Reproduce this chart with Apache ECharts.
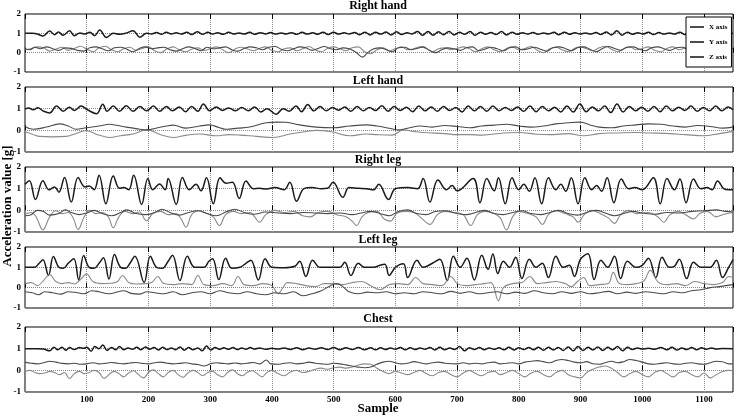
<!DOCTYPE html>
<html><head><meta charset="utf-8">
<script src="https://cdn.jsdelivr.net/npm/echarts@6/dist/echarts.min.js"></script>
<style>html,body{margin:0;padding:0;background:#fff}#c{width:738px;height:417px}</style>
</head><body><div id="c"></div>
<script>
// ---- data (flat arrays: sample, value, sample, value, ...) ----
const panelTitles = ['Right hand','Left hand','Right leg','Left leg','Chest'];
const seriesNames = ['X axis','Y axis','Z axis'];
const xTickLabels = ['100','200','300','400','500','600','700','800','900','1000','1100'];
const yTickLabels = ['-1','0','1','2'];

const rhX = [0,1.0, 12,1.0, 20,0.97, 29,0.86, 40,1.12, 48,0.93, 54,1.07, 62,0.90, 72,1.14, 80,0.88, 89,1.02, 97,0.96, 105,1.05, 113,0.88, 121,1.17, 132,0.79, 143,1.0, 153,0.95, 164,1.01, 175,1.14, 186,0.80, 197,1.0, 205,0.97, 213,1.04, 221,0.95, 229,1.06, 237,0.97, 245,1.03, 253,0.96, 262,1.05, 270,0.94, 279,1.08, 288,0.95, 296,1.06, 304,0.96, 312,1.03, 321,0.95, 330,1.05, 338,0.97, 347,1.02, 355,0.96, 364,1.05, 372,0.95, 381,1.03, 390,0.97, 398,1.04, 406,0.96, 415,1.02, 423,0.97, 432,1.03, 440,0.95, 449,1.05, 457,0.96, 466,1.03, 474,0.95, 483,1.06, 491,0.94, 500,1.05, 508,0.96, 517,1.03, 525,0.97, 534,1.04, 542,0.93, 551,1.06, 559,0.92, 568,1.05, 576,0.96, 585,1.07, 593,0.92, 602,1.08, 610,0.94, 619,1.03, 627,0.97, 636,1.09, 644,0.9, 653,1.1, 661,0.9, 670,1.08, 678,0.93, 687,1.1, 695,0.92, 704,1.06, 712,0.95, 721,1.1, 729,0.9, 738,1.06, 746,0.95, 755,1.04, 763,0.94, 772,1.09, 780,0.92, 789,1.06, 797,0.95, 806,1.03, 814,0.96, 823,1.04, 831,0.95, 840,1.02, 848,0.97, 857,1.05, 865,0.93, 874,1.06, 882,0.95, 891,1.03, 899,0.96, 908,1.02, 916,0.96, 925,1.04, 933,0.94, 942,1.07, 950,0.92, 959,1.14, 967,0.9, 976,1.06, 984,0.95, 993,1.03, 1001,0.96, 1010,1.05, 1018,0.94, 1027,1.04, 1035,0.96, 1044,1.02, 1052,0.96, 1061,1.05, 1069,0.94, 1078,1.06, 1086,0.95, 1095,1.07, 1103,0.93, 1112,1.05, 1120,0.95, 1129,1.02, 1138,0.98, 1147,1.0];
const rhY = [0,0.15, 10,0.22, 20,0.30, 30,0.25, 40,0.08, 50,0.18, 60,0.28, 70,0.12, 80,0.22, 90,0.33, 100,0.18, 110,0.05, 120,0.25, 130,0.33, 140,0.15, 150,0.05, 160,0.2, 170,0.28, 180,0.12, 190,0.22, 200,0.3, 210,0.1, 220,0.0, 230,0.2, 240,0.3, 250,0.15, 260,0.05, 270,0.18, 280,0.25, 290,0.12, 300,0.2, 310,0.3, 320,0.15, 330,0.0, 340,0.18, 350,0.28, 360,0.2, 370,0.1, 380,0.22, 390,0.3, 400,0.12, 410,0.05, 420,0.2, 430,0.25, 440,0.1, 450,0.2, 460,0.32, 470,0.15, 480,0.05, 490,0.22, 500,0.3, 510,0.2, 520,0.1, 530,0.25, 540,0.3, 550,0.05, 560,-0.05, 570,0.15, 580,0.25, 590,0.1, 600,0.2, 610,0.3, 620,0.15, 630,0.2, 640,0.3, 650,0.22, 660,0.05, 670,0.2, 680,0.25, 690,0.15, 700,0.22, 710,0.3, 720,0.2, 730,0.05, 740,0.2, 750,0.3, 760,0.15, 770,0.05, 780,0.22, 790,0.3, 800,0.15, 810,0.22, 820,0.32, 830,0.12, 840,0.0, 850,0.2, 860,0.28, 870,0.15, 880,0.05, 890,0.22, 900,0.3, 910,0.2, 920,0.1, 930,0.25, 940,0.33, 950,0.18, 960,0.05, 970,0.2, 980,0.3, 990,0.15, 1000,0.22, 1010,0.3, 1020,0.12, 1030,0.05, 1040,0.22, 1050,0.3, 1060,0.15, 1070,0.25, 1080,0.3, 1090,0.18, 1100,0.05, 1110,0.2, 1120,0.28, 1130,0.15, 1147,0.2];
const rhZ = [0,0.2, 8,0.15, 16,0.28, 25,0.2, 35,0.3, 45,0.2, 55,0.12, 65,0.25, 75,0.22, 85,0.12, 95,0.08, 105,0.25, 115,0.3, 125,0.2, 135,0.1, 145,0.25, 155,0.28, 165,0.18, 175,0.05, 185,0.22, 195,0.3, 205,0.2, 215,0.25, 225,0.28, 235,0.15, 245,0.08, 255,0.2, 265,0.3, 275,0.22, 285,0.1, 295,0.28, 305,0.2, 315,0.25, 325,0.3, 335,0.15, 345,0.08, 355,0.22, 365,0.3, 375,0.25, 385,0.15, 395,0.28, 405,0.32, 415,0.18, 425,0.1, 435,0.2, 445,0.3, 455,0.25, 465,0.12, 475,0.22, 485,0.32, 495,0.2, 505,0.15, 515,0.25, 525,0.2, 535,0.05, 547,-0.23, 555,0.0, 565,0.2, 575,0.25, 585,0.15, 595,0.05, 605,0.25, 615,0.28, 625,0.15, 635,0.22, 645,0.3, 655,0.12, 665,0.0, 675,0.15, 685,0.25, 695,0.2, 705,0.12, 715,0.25, 725,0.3, 735,0.1, 745,0.18, 755,0.28, 765,0.2, 775,0.1, 785,0.25, 795,0.3, 805,0.15, 815,0.2, 825,0.28, 835,0.18, 845,0.08, 855,0.25, 865,0.3, 875,0.22, 885,0.1, 895,0.25, 905,0.3, 915,0.18, 925,0.05, 935,0.2, 945,0.32, 955,0.22, 965,0.12, 975,0.28, 985,0.3, 995,0.18, 1005,0.1, 1015,0.25, 1025,0.3, 1035,0.2, 1045,0.12, 1055,0.25, 1065,0.28, 1075,0.15, 1085,0.25, 1095,0.32, 1105,0.2, 1115,0.1, 1125,0.25, 1135,0.22, 1147,0.2];

const lhX = [0,0.98, 6,1.03, 13,0.95, 21,1.04, 29,0.9, 40,0.8, 51,1.12, 62,0.88, 72,1.06, 80,0.92, 91,1.12, 101,0.95, 116,0.77, 126,1.2, 133,0.88, 143,1.12, 153,0.88, 164,1.14, 175,0.88, 186,1.1, 197,0.9, 208,1.12, 218,0.88, 229,1.1, 239,0.9, 250,1.08, 260,0.86, 270,1.1, 280,0.88, 289,1.22, 299,0.9, 310,1.08, 320,0.92, 330,1.03, 341,0.9, 351,1.05, 362,0.9, 372,1.08, 382,0.85, 392,1.0, 407,0.74, 418,1.0, 428,0.88, 439,1.12, 448,0.86, 458,1.19, 468,0.9, 478,1.1, 488,0.9, 498,1.05, 508,0.93, 518,1.08, 528,0.88, 538,1.1, 548,0.9, 558,1.05, 568,0.92, 578,1.14, 588,0.88, 598,1.1, 608,0.92, 618,1.06, 628,0.86, 638,1.12, 648,0.9, 658,1.08, 668,0.88, 678,1.1, 688,0.92, 698,1.05, 708,0.85, 718,1.12, 728,0.9, 738,1.1, 748,0.88, 758,1.12, 768,0.9, 778,1.05, 788,0.92, 798,1.08, 808,0.88, 818,1.12, 828,0.86, 838,1.1, 848,0.9, 858,1.06, 868,0.85, 878,1.12, 888,0.85, 899,1.22, 909,0.86, 919,1.08, 929,0.9, 939,1.12, 949,0.82, 959,1.22, 969,0.85, 979,1.1, 989,0.9, 999,1.06, 1009,0.88, 1019,1.1, 1029,0.86, 1039,1.12, 1049,0.9, 1059,1.06, 1069,0.92, 1079,1.12, 1089,0.88, 1099,1.05, 1109,0.9, 1119,1.12, 1129,0.9, 1139,1.08, 1147,0.95];
const lhY = [0,-0.07, 12,-0.18, 24,-0.28, 45,-0.3, 67,-0.28, 85,-0.12, 99,-0.02, 118,-0.2, 137,-0.33, 155,-0.25, 175,-0.17, 197,0.02, 220,-0.2, 240,-0.33, 262,-0.22, 283,-0.17, 310,-0.25, 330,-0.2, 348,-0.22, 375,-0.28, 402,-0.33, 429,-0.17, 450,-0.08, 472,0.0, 499,-0.08, 526,-0.25, 553,-0.17, 570,-0.2, 595,-0.22, 613,0.02, 630,-0.05, 645,-0.1, 680,-0.15, 700,-0.2, 721,-0.2, 740,-0.22, 775,-0.12, 800,-0.1, 830,-0.18, 850,-0.2, 880,-0.15, 905,-0.25, 930,-0.15, 960,-0.12, 990,-0.1, 1010,-0.12, 1045,-0.15, 1070,-0.2, 1100,-0.25, 1125,-0.15, 1147,-0.05];
const lhZ = [0,0.18, 13,0.05, 35,0.15, 56,0.3, 70,0.2, 83,0.05, 99,0.12, 120,0.2, 137,0.28, 150,0.22, 164,0.15, 180,0.08, 197,0.02, 215,0.12, 229,0.2, 240,0.24, 261,0.1, 283,0.2, 299,0.25, 315,0.12, 326,0.05, 345,0.1, 364,0.15, 391,0.35, 410,0.38, 423,0.37, 445,0.25, 472,0.15, 499,0.12, 526,0.2, 553,0.25, 570,0.2, 590,0.1, 605,0.02, 620,0.1, 640,0.2, 660,0.15, 680,0.22, 700,0.18, 720,0.12, 740,0.2, 760,0.24, 780,0.28, 800,0.2, 820,0.15, 840,0.2, 860,0.3, 880,0.35, 900,0.38, 915,0.25, 930,0.15, 950,0.12, 970,0.2, 990,0.25, 1010,0.3, 1030,0.28, 1050,0.2, 1070,0.15, 1090,0.22, 1110,0.18, 1130,0.1, 1147,0.15];

const rlX = [0,1.2, 7,1.37, 17,0.5, 29,1.37, 39,0.95, 48,1.08, 55,0.84, 64,1.52, 75,0.38, 86,1.52, 97,1.08, 104,1.12, 112,0.95, 120,1.62, 131,0.3, 143,1.58, 153,1.02, 160,1.05, 168,0.95, 176,1.62, 189,0.27, 199,1.47, 207,0.95, 218,1.22, 227,0.95, 232,1.47, 245,0.27, 255,1.52, 266,0.95, 277,1.2, 285,0.9, 294,1.5, 305,0.3, 316,1.5, 326,1.25, 336,1.3, 347,0.55, 358,1.35, 370,1.0, 380,1.02, 391,0.98, 405,1.05, 420,0.95, 429,1.3, 440,0.42, 452,1.0, 465,1.05, 480,1.0, 490,1.02, 499,1.3, 515,0.6, 525,1.05, 540,1.02, 553,1.0, 565,0.95, 573,1.2, 589,0.5, 600,1.0, 620,1.05, 636,1.0, 645,1.47, 656,0.38, 669,1.4, 683,0.95, 692,1.15, 700,0.9, 726,1.47, 737,0.35, 748,1.47, 760,0.9, 767,1.5, 778,0.3, 789,1.5, 800,0.95, 808,1.2, 817,0.88, 826,1.5, 837,0.3, 848,1.5, 860,0.95, 868,1.2, 876,0.88, 885,1.5, 896,0.3, 907,1.5, 918,0.95, 926,1.15, 934,0.88, 943,1.5, 954,0.35, 966,1.45, 978,1.0, 988,1.05, 1000,0.95, 1018,1.5, 1029,0.3, 1040,1.47, 1052,0.95, 1061,1.45, 1071,0.35, 1083,1.45, 1095,1.0, 1105,1.05, 1113,0.95, 1122,1.35, 1132,1.0, 1140,0.95, 1147,0.95];
const rlY = [0,-0.18, 10,-0.1, 18,-0.3, 29,-0.9, 40,-0.3, 50,-0.02, 60,-0.15, 70,-0.1, 78,-0.35, 86,-0.88, 96,-0.3, 105,0.0, 115,-0.15, 125,-0.1, 135,-0.3, 143,-0.8, 152,-0.3, 162,-0.05, 175,-0.15, 185,-0.08, 197,-0.48, 207,-0.15, 220,-0.05, 232,-0.2, 245,-0.15, 253,-0.4, 261,-0.78, 270,-0.2, 282,-0.02, 295,-0.15, 305,-0.3, 315,-0.7, 325,-0.2, 338,-0.05, 350,-0.15, 365,-0.1, 372,-0.3, 380,-0.55, 390,-0.2, 405,0.0, 420,-0.1, 435,-0.05, 450,-0.25, 462,-0.3, 475,-0.1, 490,-0.05, 505,-0.2, 520,-0.3, 530,-0.5, 537,-0.7, 546,-0.3, 556,-0.1, 570,-0.05, 582,-0.4, 592,-0.5, 602,-0.15, 615,-0.05, 630,-0.1, 640,-0.3, 656,-0.65, 668,-0.2, 680,-0.05, 695,-0.1, 710,-0.2, 722,-0.7, 733,-0.2, 745,-0.05, 760,-0.15, 770,-0.35, 780,-0.9, 790,-0.3, 800,-0.05, 815,-0.15, 828,-0.3, 838,-0.65, 848,-0.2, 860,-0.02, 875,-0.15, 888,-0.3, 896,-0.55, 906,-0.2, 918,0.0, 932,-0.15, 945,-0.35, 955,-0.6, 965,-0.2, 978,0.0, 990,-0.15, 1010,-0.1, 1025,-0.3, 1035,-0.55, 1045,-0.2, 1058,-0.05, 1070,-0.2, 1083,-0.4, 1093,-0.15, 1105,-0.05, 1120,-0.3, 1130,-0.2, 1147,-0.1];
const rlZ = [0,-0.25, 10,-0.2, 20,0.0, 30,-0.05, 40,-0.22, 55,-0.15, 65,0.02, 75,-0.1, 88,-0.2, 100,-0.12, 112,0.0, 125,-0.15, 140,-0.25, 155,-0.1, 165,0.02, 180,-0.15, 195,-0.2, 210,-0.1, 222,0.05, 235,-0.1, 250,-0.22, 265,-0.1, 280,-0.02, 295,-0.15, 310,-0.25, 325,-0.08, 340,0.05, 355,-0.1, 370,-0.18, 390,-0.08, 410,-0.12, 430,-0.15, 450,-0.1, 470,-0.12, 490,-0.15, 510,-0.12, 530,-0.2, 545,-0.12, 560,-0.05, 575,-0.15, 590,-0.25, 605,-0.05, 620,0.02, 635,-0.15, 650,-0.2, 665,-0.05, 680,-0.02, 700,-0.15, 715,-0.2, 730,-0.1, 745,0.0, 760,-0.15, 775,-0.2, 790,-0.1, 805,-0.02, 820,-0.15, 835,-0.2, 850,-0.1, 865,0.0, 880,-0.15, 895,-0.22, 910,-0.1, 925,0.0, 940,-0.12, 955,-0.25, 970,-0.15, 985,-0.05, 1000,-0.12, 1020,-0.18, 1040,-0.1, 1060,-0.12, 1080,-0.05, 1100,-0.02, 1120,0.02, 1135,-0.05, 1147,-0.08];

const llX = [0,1.0, 15,1.0, 23,1.2, 29,1.37, 38,0.6, 46,1.53, 55,1.0, 62,0.95, 70,1.2, 79,1.42, 87,0.38, 95,1.58, 104,1.0, 112,0.95, 120,1.2, 127,1.47, 136,0.43, 145,1.63, 155,1.0, 163,0.95, 170,1.2, 178,1.55, 193,0.26, 203,1.55, 213,1.0, 222,0.95, 232,1.3, 239,1.6, 251,0.35, 263,1.55, 275,1.0, 290,1.0, 298,1.3, 304,1.42, 314,0.4, 325,1.45, 335,0.95, 348,1.0, 358,1.2, 366,1.35, 378,0.38, 389,1.42, 400,1.0, 420,0.98, 437,1.05, 445,1.3, 455,0.55, 466,1.35, 478,1.0, 495,1.0, 510,1.0, 518,1.25, 528,0.6, 540,1.2, 550,1.0, 565,1.0, 575,1.1, 583,1.15, 590,0.6, 600,1.0, 613,1.18, 620,0.5, 635,1.35, 645,1.0, 660,1.2, 672,1.4, 684,0.35, 694,1.55, 705,1.0, 716,1.45, 728,0.38, 740,1.6, 750,0.9, 758,1.65, 766,0.7, 775,1.3, 785,1.0, 795,1.5, 805,0.45, 817,1.4, 828,1.0, 838,1.2, 848,0.5, 860,1.55, 872,1.0, 882,1.1, 890,0.55, 900,1.4, 912,1.67, 922,0.4, 933,1.35, 944,1.0, 955,1.55, 965,0.45, 976,1.3, 990,1.0, 1000,1.1, 1010,1.45, 1022,0.5, 1032,1.5, 1044,1.0, 1052,1.05, 1060,1.4, 1072,0.45, 1083,1.25, 1095,1.0, 1110,1.0, 1120,1.35, 1130,0.5, 1140,1.0, 1147,1.38];
const llY = [0,0.18, 10,0.25, 20,0.1, 30,0.35, 40,0.65, 50,0.3, 60,0.2, 70,0.25, 80,0.18, 90,0.4, 100,0.68, 110,0.3, 125,0.2, 140,0.22, 150,0.3, 158,0.6, 168,0.25, 180,0.18, 195,0.2, 205,0.25, 215,0.55, 225,0.2, 240,0.15, 255,0.2, 270,0.15, 280,0.6, 290,0.15, 305,0.1, 320,0.2, 335,0.1, 345,0.55, 355,0.15, 370,0.1, 385,0.2, 400,0.1, 410,-0.3, 418,0.0, 425,0.25, 440,0.2, 455,0.1, 470,0.05, 485,0.2, 500,0.2, 515,0.15, 530,0.25, 545,0.3, 560,0.1, 575,-0.1, 590,0.15, 605,0.2, 620,0.15, 633,0.5, 645,0.2, 660,0.15, 675,0.1, 690,0.55, 700,0.2, 715,0.1, 730,0.15, 745,0.2, 755,0.25, 767,-0.65, 775,0.0, 790,0.2, 805,0.25, 818,0.55, 830,0.2, 845,0.25, 860,0.3, 875,0.2, 885,0.05, 895,0.3, 905,0.5, 915,0.1, 930,0.15, 945,0.2, 953,0.75, 963,0.2, 975,0.15, 990,0.2, 1003,0.35, 1013,0.85, 1025,0.3, 1040,0.15, 1055,0.2, 1070,0.1, 1085,0.3, 1100,0.2, 1115,0.15, 1130,0.25, 1140,0.55, 1147,0.5];
const llZ = [0,-0.2, 12,-0.25, 22,-0.35, 32,-0.2, 45,-0.25, 58,-0.32, 70,-0.2, 85,-0.25, 96,-0.3, 108,-0.15, 120,-0.2, 135,-0.3, 145,-0.25, 160,-0.15, 172,-0.28, 185,-0.32, 198,-0.2, 210,-0.25, 225,-0.3, 240,-0.2, 255,-0.35, 270,-0.25, 285,-0.2, 300,-0.3, 315,-0.15, 330,-0.25, 345,-0.3, 360,-0.2, 375,-0.3, 390,-0.35, 405,-0.25, 420,-0.3, 435,-0.2, 450,-0.4, 465,-0.3, 480,-0.15, 495,0.1, 505,0.2, 515,0.05, 525,-0.2, 540,-0.3, 555,-0.22, 570,-0.25, 585,-0.2, 600,-0.3, 615,-0.25, 630,-0.3, 645,-0.2, 660,-0.25, 675,-0.3, 690,-0.18, 705,-0.28, 720,-0.2, 735,-0.3, 750,-0.25, 765,-0.2, 780,-0.3, 795,-0.22, 810,-0.28, 825,-0.15, 840,-0.25, 855,-0.3, 870,-0.2, 885,-0.28, 900,-0.2, 915,-0.3, 930,-0.25, 945,-0.18, 960,-0.3, 975,-0.22, 990,-0.28, 1005,-0.2, 1020,-0.25, 1035,-0.3, 1050,-0.2, 1065,-0.25, 1080,-0.15, 1095,-0.1, 1110,0.0, 1125,0.05, 1135,0.1, 1147,0.15];

const chX = [0,1.0, 20,1.0, 30,0.98, 40,0.9, 47,1.07, 53,0.95, 60,1.06, 66,0.93, 72,1.05, 80,0.96, 88,1.05, 95,1.02, 100,1.06, 107,0.88, 113,1.1, 120,1.0, 126,1.17, 133,0.92, 140,1.05, 147,0.95, 153,1.1, 160,0.95, 167,1.03, 174,0.97, 181,1.06, 188,0.95, 195,1.08, 202,0.97, 209,1.05, 216,0.94, 223,1.06, 230,0.96, 237,1.03, 244,0.95, 251,1.08, 258,0.93, 265,1.05, 272,0.95, 280,1.03, 287,0.9, 294,1.12, 301,0.94, 308,1.05, 315,0.97, 322,1.04, 330,0.97, 337,1.05, 344,0.96, 351,1.03, 358,0.97, 365,1.05, 372,0.98, 380,1.03, 390,0.97, 400,1.02, 410,0.98, 420,1.03, 430,0.96, 440,1.04, 450,0.95, 460,1.03, 470,0.97, 480,1.04, 490,0.96, 500,1.05, 510,0.95, 520,1.04, 530,0.96, 540,1.05, 550,0.95, 560,1.04, 568,0.95, 576,1.04, 584,0.96, 592,1.03, 600,0.97, 608,1.05, 616,0.95, 624,1.04, 632,0.96, 640,1.03, 648,0.97, 656,1.05, 664,0.94, 672,1.06, 680,0.95, 688,1.03, 696,0.96, 704,1.1, 712,0.9, 720,1.04, 728,0.96, 736,1.05, 744,0.95, 752,1.03, 760,0.97, 768,1.04, 776,0.95, 784,1.06, 792,0.94, 800,1.04, 808,0.96, 816,1.05, 824,0.95, 832,1.07, 840,0.93, 848,1.06, 856,0.94, 864,1.05, 872,0.92, 880,1.08, 888,0.9, 896,1.1, 904,0.92, 912,1.06, 920,0.94, 928,1.08, 936,0.92, 944,1.06, 952,0.95, 960,1.1, 968,0.9, 976,1.06, 984,0.96, 992,1.03, 1000,0.98, 1010,1.02, 1020,0.97, 1030,1.05, 1040,0.95, 1048,1.06, 1056,0.94, 1064,1.03, 1072,0.96, 1080,1.05, 1088,0.95, 1096,1.04, 1104,0.97, 1112,1.03, 1120,0.98, 1130,1.01, 1147,1.0];
const chY = [0,-0.05, 8,0.0, 16,-0.1, 24,-0.15, 32,-0.12, 40,-0.05, 48,-0.1, 56,-0.2, 64,-0.1, 72,-0.38, 80,-0.15, 88,-0.05, 96,-0.15, 104,-0.1, 112,0.0, 120,-0.1, 128,-0.38, 136,-0.2, 144,-0.05, 152,-0.15, 160,-0.3, 168,-0.12, 176,-0.02, 184,-0.2, 192,-0.35, 200,-0.1, 208,0.02, 216,-0.15, 224,-0.3, 232,-0.1, 240,0.0, 248,-0.2, 256,-0.32, 264,-0.12, 272,0.0, 280,-0.1, 288,-0.25, 296,-0.1, 304,-0.05, 312,-0.2, 320,-0.3, 328,-0.1, 336,0.02, 344,-0.15, 352,-0.25, 360,-0.1, 368,-0.02, 376,-0.15, 384,-0.3, 392,-0.1, 400,0.0, 410,-0.15, 420,-0.25, 430,-0.08, 440,0.0, 450,-0.1, 460,-0.05, 470,0.05, 480,0.1, 490,0.05, 500,0.12, 510,0.15, 520,0.1, 530,0.15, 540,0.25, 550,0.3, 560,0.28, 570,0.1, 580,-0.05, 590,-0.15, 600,-0.05, 610,-0.12, 620,-0.2, 630,-0.1, 640,0.0, 650,-0.15, 660,-0.25, 670,-0.1, 680,-0.05, 690,-0.2, 700,-0.3, 710,-0.12, 720,0.0, 730,-0.15, 740,-0.25, 750,-0.1, 760,-0.05, 770,-0.2, 780,-0.1, 790,0.0, 800,-0.15, 810,-0.3, 820,-0.12, 830,-0.05, 840,-0.2, 850,-0.3, 860,-0.1, 870,0.0, 880,-0.2, 890,-0.3, 900,-0.35, 910,-0.1, 920,0.05, 930,0.15, 940,0.2, 950,0.1, 960,-0.1, 970,-0.3, 980,-0.15, 990,-0.05, 1000,-0.2, 1010,-0.3, 1020,-0.1, 1030,0.0, 1040,-0.15, 1050,-0.3, 1060,-0.1, 1070,-0.05, 1080,-0.2, 1090,-0.3, 1100,-0.12, 1110,-0.35, 1120,-0.2, 1130,-0.05, 1140,0.0, 1147,-0.02];
const chZ = [0,0.38, 10,0.33, 20,0.3, 30,0.35, 40,0.42, 50,0.38, 60,0.32, 70,0.3, 80,0.33, 90,0.28, 100,0.3, 110,0.35, 120,0.3, 130,0.32, 140,0.36, 150,0.33, 160,0.3, 170,0.34, 180,0.36, 190,0.32, 200,0.3, 210,0.35, 220,0.38, 230,0.33, 240,0.3, 250,0.32, 260,0.35, 270,0.3, 280,0.27, 290,0.2, 300,0.3, 310,0.35, 320,0.32, 330,0.3, 340,0.34, 350,0.3, 360,0.33, 370,0.36, 380,0.3, 391,0.48, 398,0.3, 410,0.28, 420,0.33, 430,0.35, 440,0.3, 450,0.32, 460,0.38, 470,0.33, 480,0.3, 490,0.28, 500,0.33, 510,0.3, 520,0.25, 530,0.2, 540,0.15, 550,0.12, 560,0.15, 570,0.28, 580,0.38, 590,0.42, 600,0.35, 610,0.3, 620,0.33, 630,0.4, 640,0.35, 650,0.3, 660,0.35, 670,0.38, 680,0.33, 700,0.3, 710,0.35, 720,0.3, 730,0.33, 740,0.3, 750,0.35, 760,0.38, 770,0.3, 780,0.33, 790,0.35, 800,0.3, 810,0.38, 820,0.42, 830,0.45, 840,0.4, 850,0.35, 860,0.45, 870,0.5, 880,0.45, 890,0.38, 900,0.35, 910,0.4, 920,0.3, 930,0.28, 940,0.35, 950,0.42, 960,0.35, 970,0.4, 980,0.5, 990,0.45, 1000,0.38, 1010,0.3, 1020,0.28, 1030,0.32, 1040,0.35, 1050,0.3, 1060,0.28, 1070,0.33, 1080,0.35, 1090,0.3, 1100,0.28, 1110,0.35, 1120,0.42, 1130,0.4, 1140,0.3, 1147,0.3];

// ---- layout / style ----
const panelData = [[rhX,rhY,rhZ],[lhX,lhY,lhZ],[rlX,rlY,rlZ],[llX,llY,llZ],[chX,chY,chZ]];
const gridBoxes = [{top:14,height:58},{top:87,height:65},{top:167,height:65},{top:247,height:61},{top:327,height:65}];
const titleY = [6,81,160,240,319];
const lineStyles = [{color:'#1a1a1a',width:1.5},{color:'#8a8a8a',width:1.1},{color:'#4a4a4a',width:1.1}];
const SERIF = '"Liberation Serif","Times New Roman",serif';
const X_MAX = 1147;

function pairs(a){const r=[];for(let i=0;i<a.length;i+=2)r.push([a[i],a[i+1]]);return r;}

const grids=[], xAxes=[], yAxes=[], series=[], graphics=[];
gridBoxes.forEach((g,i)=>{
  grids.push({left:25,right:5,top:g.top,height:g.height,show:true,borderColor:'#000',borderWidth:1,backgroundColor:'#fff'});
  const common={gridIndex:i,type:'value',min:0,max:X_MAX,interval:100,axisLine:{show:false},
    axisTick:{show:true,inside:true,length:5,lineStyle:{color:'#000',width:1}}};
  xAxes.push(Object.assign({},common,{position:'bottom',
    axisLabel:{show:i===4,showMinLabel:false,showMaxLabel:false,fontFamily:SERIF,fontWeight:'bold',fontSize:9,color:'#000',margin:3,
      formatter:v=>xTickLabels.includes(String(v))?String(v):''},
    splitLine:{show:true,lineStyle:{type:'dotted',color:'#888',width:1}}}));
  xAxes.push(Object.assign({},common,{position:'top',axisLabel:{show:false},splitLine:{show:false}}));
  yAxes.push({gridIndex:i,type:'value',min:-1,max:2,interval:1,axisLine:{show:false},axisTick:{show:false},
    axisLabel:{fontFamily:SERIF,fontWeight:'bold',fontSize:9,color:'#000',margin:4,
      formatter:v=>yTickLabels.includes(String(v))?String(v):''},
    splitLine:{show:true,lineStyle:{type:'dotted',color:'#888',width:1}}});
  panelData[i].forEach((arr,k)=>{
    series.push({name:seriesNames[k],type:'line',xAxisIndex:i*2,yAxisIndex:i,data:pairs(arr),
      showSymbol:false,symbol:'none',smooth:0.4,lineStyle:{color:lineStyles[k].color,width:lineStyles[k].width},
      itemStyle:{color:lineStyles[k].color},z:3});
  });
  graphics.push({type:'text',x:378,y:titleY[i],style:{text:panelTitles[i],font:'bold 12px '+SERIF,fill:'#000',textAlign:'center',textVerticalAlign:'middle'}});
});
graphics.push({type:'text',x:378,y:409,style:{text:'Sample',font:'bold 13px '+SERIF,fill:'#000',textAlign:'center',textVerticalAlign:'middle'}});
graphics.push({type:'text',x:8,y:206,rotation:Math.PI/2,style:{text:'Acceleration value [g]',font:'bold 13px '+SERIF,fill:'#000',textAlign:'center',textVerticalAlign:'middle'}});

const chart = echarts.init(document.getElementById('c'),null,{renderer:'canvas'});
chart.setOption({
  animation:false,
  backgroundColor:'#fff',
  grid:grids, xAxis:xAxes, yAxis:yAxes, series:series,
  legend:{data:seriesNames.map(n=>({name:n,icon:'rect',itemStyle:{color:'#111'}})),orient:'vertical',left:686,top:17,
    itemWidth:14,itemHeight:1.5,itemGap:7,
    padding:[6,4,6,4],borderColor:'#000',borderWidth:1,backgroundColor:'#fff',
    textStyle:{fontFamily:SERIF,fontWeight:'bold',fontSize:7,color:'#000',lineHeight:8},selectedMode:false,z:10},
  graphic:graphics
});
</script></body></html>
